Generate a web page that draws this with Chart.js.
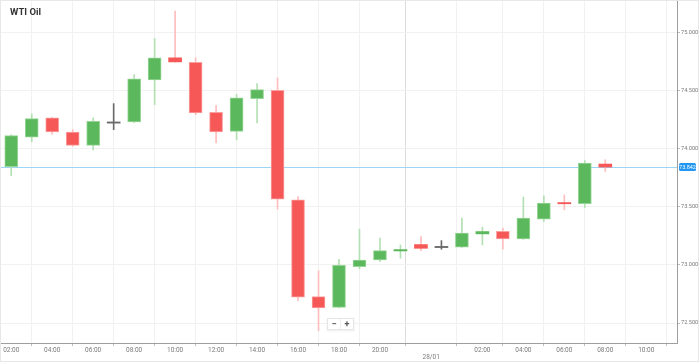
<!DOCTYPE html>
<html>
<head>
<meta charset="utf-8">
<script src="https://cdn.jsdelivr.net/npm/chart.js@4"></script>
<style>
  body { margin: 0; background: #fff; font-family: Roboto, sans-serif; }
  .wrap { position: relative; width: 697px; height: 360px; border: 1px solid #e8e8e8; }
  canvas { display: block; }
  .title { position: absolute; left: 9px; top: 5px; font: bold 9.5px Roboto, sans-serif; color: #333; }
  .zoom { position: absolute; left: 326px; top: 317px; display: flex; background: #fff;
          border: 1px solid #e6e6e6; box-shadow: 0 1px 2px rgba(0,0,0,0.08); }
  .zoom span { width: 12px; height: 10px; line-height: 10px; text-align: center; font: bold 9px Roboto, sans-serif; color: #555; }
  .zoom span + span { border-left: 1px solid #eee; }
</style>
</head>
<body>
<div class="wrap">
  <canvas id="chart" width="697" height="360"></canvas>
  <div class="title">WTI Oil</div>
  <div class="zoom"><span>−</span><span>+</span></div>
</div>
<script>
// hourly candles, 27/01 02:00 -> 28/01 08:00 (23:00 closed)
const times = ['02:00','03:00','04:00','05:00','06:00','07:00','08:00','09:00','10:00','11:00','12:00',
  '13:00','14:00','15:00','16:00','17:00','18:00','19:00','20:00','21:00','22:00',
  '00:00','01:00','02:00','03:00','04:00','05:00','06:00','07:00','08:00'];
const opens  = [73.845,74.100,74.265,74.144,74.028,74.220,74.230,74.592,74.782,74.744,74.313,74.149,74.431,74.502,73.560,
  72.727,72.635,72.985,73.043,73.120,73.175,73.149,73.152,73.267,73.290,73.224,73.394,73.532,73.526,73.868];
const closes = [74.112,74.259,74.144,74.028,74.235,74.220,74.601,74.782,74.747,74.308,74.144,74.437,74.509,73.566,72.722,
  72.629,72.997,73.041,73.123,73.132,73.143,73.149,73.273,73.287,73.224,73.403,73.532,73.526,73.877,73.842];
const highs  = [74.120,74.300,74.270,74.164,74.265,74.388,74.638,74.948,75.184,74.782,74.373,74.466,74.560,74.609,73.589,
  72.948,73.049,73.308,73.230,73.172,73.244,73.209,73.403,73.325,73.316,73.584,73.595,73.603,73.897,73.905];
const lows   = [73.767,74.060,74.125,74.020,73.990,74.164,74.225,74.379,74.745,74.293,74.049,74.078,74.222,73.480,72.692,
  72.434,72.630,72.966,73.028,73.058,73.123,73.135,73.150,73.172,73.135,73.220,73.373,73.474,73.494,73.804];
const lastPrice = 73.842;

// x ticks (slot positions) and their labels
const tickPos = [0,2,4,6,8,10,12,14,16,18,20.5,23,25,27,29,31];
const tickLabels = ['02:00','04:00','06:00','08:00','10:00','12:00','14:00','16:00','18:00','20:00','28/01',
  '02:00','04:00','06:00','08:00','10:00'];
const yTicks = [72.5,73.0,73.5,74.0,74.5,75.0];

const dir = (i) => closes[i] > opens[i] ? 'up' : (closes[i] < opens[i] ? 'down' : 'flat');
const bodyCol = { up: '#5cb85c', down: '#f65858', flat: '#6a6a6a' };
const edgeCol = { up: '#96d596', down: '#fb9f9f', flat: '#6a6a6a' };
const wickCol = { up: '#b3e0b3', down: '#ffbdbd', flat: '#6a6a6a' };

const bodies = times.map((t, i) => ({ x: i, y: [opens[i], closes[i]] }));
const wicks = times.map((t, i) => ({ x: i, y: [lows[i], highs[i]] }));

const noPad = (scale) => {
  scale.paddingTop = 0; scale.paddingBottom = 0;
  scale.paddingLeft = 0; scale.paddingRight = 0;
};

// last price line + tag on the right axis
const priceLine = {
  id: 'priceLine',
  beforeDatasetsDraw(chart) {
    const { ctx, chartArea } = chart;
    const y = Math.round(chart.scales.y.getPixelForValue(lastPrice));
    ctx.save();
    ctx.fillStyle = '#9dd5f5';
    ctx.fillRect(chartArea.left, y, chartArea.right - chartArea.left, 1);
    ctx.restore();
  },
  afterDraw(chart) {
    const { ctx, chartArea } = chart;
    const y = chart.scales.y.getPixelForValue(lastPrice);
    const x = chartArea.right + 2;
    ctx.save();
    ctx.fillStyle = '#2196f3';
    ctx.beginPath();
    ctx.roundRect(x, y - 4, 17, 8, 1.5);
    ctx.fill();
    ctx.fillStyle = '#fff';
    ctx.font = '5.5px Roboto';
    ctx.textAlign = 'center';
    ctx.textBaseline = 'middle';
    ctx.fillText(lastPrice.toFixed(3), x + 8.5, y + 0.3);
    ctx.restore();
  }
};

new Chart(document.getElementById('chart'), {
  type: 'bar',
  data: {
    datasets: [
      {
        data: bodies,
        grouped: false,
        order: 1,
        barThickness: 13,
        minBarLength: 1.2,
        borderSkipped: false,
        backgroundColor: (c) => bodyCol[dir(c.dataIndex)],
        borderColor: (c) => edgeCol[dir(c.dataIndex)],
        borderWidth: (c) => Math.abs(opens[c.dataIndex] - closes[c.dataIndex]) > 0.04 ? 1 : 0
      },
      {
        data: wicks,
        grouped: false,
        order: 2,
        barThickness: 1,
        borderWidth: 0,
        backgroundColor: (c) => wickCol[dir(c.dataIndex)]
      }
    ]
  },
  options: {
    responsive: false,
    animation: false,
    layout: { padding: 0 },
    plugins: { legend: { display: false }, tooltip: { enabled: false } },
    scales: {
      x: {
        type: 'linear',
        min: -0.5,
        max: 32.5,
        offset: false,
        afterBuildTicks: (scale) => { scale.ticks = tickPos.map(v => ({ value: v })); },
        afterFit: (scale) => { scale.height = 18; noPad(scale); },
        ticks: {
          autoSkip: false,
          maxRotation: 0,
          padding: 0,
          color: '#7a7a7a',
          font: { family: 'Roboto', size: 6.5 },
          callback: (v) => {
            const k = tickPos.indexOf(v);
            if (k < 0) return '';
            return tickLabels[k] === '28/01' ? ['', '28/01'] : tickLabels[k];
          }
        },
        grid: {
          tickLength: 3,
          color: (c) => c.tick && c.tick.value === 20.5 ? '#dcdcdc' : '#f1f1f1',
          tickColor: '#bdbdbd'
        },
        border: { color: '#9e9e9e', width: 1 }
      },
      y: {
        position: 'right',
        min: 72.328,
        max: 75.271,
        afterBuildTicks: (scale) => { scale.ticks = yTicks.map(v => ({ value: v })); },
        afterFit: (scale) => { scale.width = 21; noPad(scale); },
        ticks: {
          padding: 1,
          color: '#7a7a7a',
          font: { family: 'Roboto', size: 5.6 },
          callback: (v) => Number(v).toFixed(3)
        },
        grid: { tickLength: 3, color: '#f1f1f1', tickColor: '#bdbdbd' },
        border: { color: '#9e9e9e', width: 1 }
      }
    }
  },
  plugins: [priceLine]
});
</script>
</body>
</html>
